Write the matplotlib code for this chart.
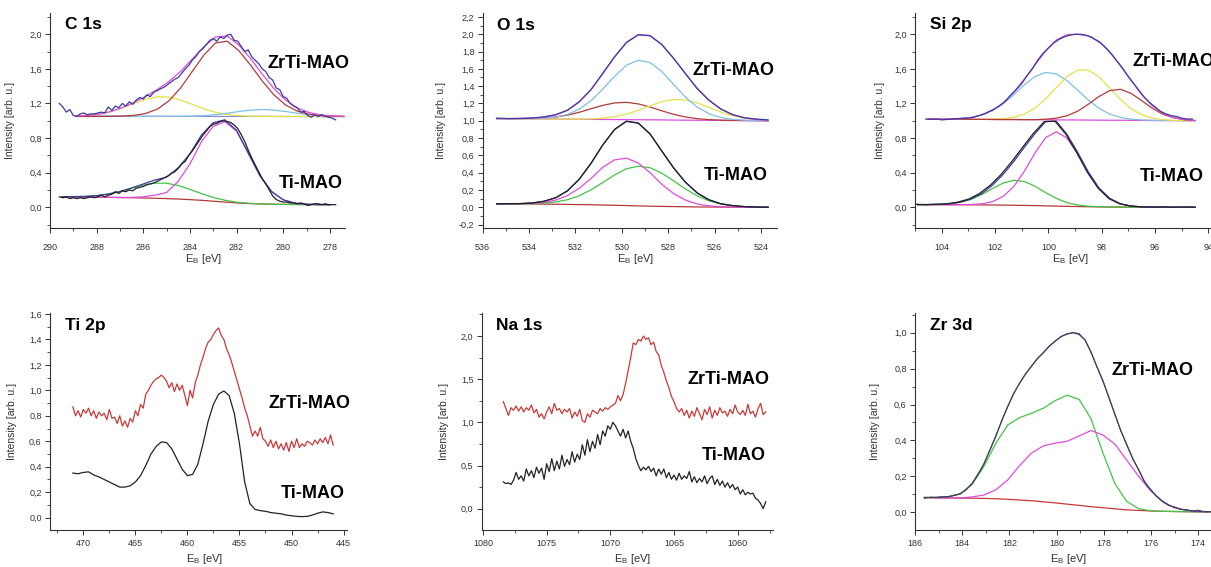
import numpy as np
import matplotlib
matplotlib.use("Agg")
import matplotlib.pyplot as plt
from matplotlib.ticker import MultipleLocator, FuncFormatter

plt.rcParams["font.family"] = ["Liberation Sans", "DejaVu Sans"]
plt.rcParams["mathtext.fontset"] = "custom"
plt.rcParams["mathtext.rm"] = "Liberation Sans"
plt.rcParams["mathtext.default"] = "regular"

# ---------------- C 1s ----------------
# ZrTi-MAO fit curves, 288.9 -> 277.4 eV
C1S_ZR_RANGE = (288.9, 277.4)
c1s_zr_bg = [1.055, 1.055, 1.054, 1.054, 1.053, 1.053, 1.052, 1.052, 1.052, 1.051, 1.051, 1.051,
             1.05, 1.05, 1.05, 1.05, 1.05, 1.05, 1.049, 1.049, 1.049, 1.048, 1.048, 1.048]
c1s_zr_yellow = [1.054, 1.061, 1.076, 1.105, 1.148, 1.20, 1.249, 1.277, 1.274, 1.24, 1.19, 1.138,
                 1.098, 1.073, 1.059, 1.053, 1.051, 1.05, 1.05, 1.05, 1.05, 1.049, 1.048, 1.047]
c1s_zr_blue = [1.05, 1.05, 1.05, 1.05, 1.05, 1.05, 1.05, 1.05, 1.05, 1.051, 1.053, 1.059,
               1.07, 1.087, 1.107, 1.123, 1.13, 1.123, 1.107, 1.087, 1.07, 1.059, 1.053, 1.051]
c1s_zr_brown = [1.05, 1.05, 1.05, 1.051, 1.054, 1.062, 1.084, 1.134, 1.23, 1.38, 1.57, 1.76,
                1.90, 1.92, 1.81, 1.644, 1.46, 1.30, 1.183, 1.112, 1.076, 1.059, 1.053, 1.05]
c1s_zr_env = [1.055, 1.061, 1.076, 1.106, 1.152, 1.212, 1.283, 1.361, 1.454, 1.57, 1.714, 1.857,
              1.968, 1.98, 1.876, 1.72, 1.54, 1.373, 1.24, 1.149, 1.096, 1.068, 1.056, 1.051]
C1S_ZR_DATA_RANGE = (289.6, 277.75)
c1s_zr_data = [1.20, 1.16, 1.10, 1.13, 1.06, 1.05, 1.08, 1.09, 1.07, 1.08,
               1.08, 1.09, 1.10, 1.09, 1.16, 1.12, 1.17, 1.15, 1.20, 1.17,
               1.22, 1.19, 1.24, 1.27, 1.25, 1.30, 1.28, 1.33, 1.35, 1.37,
               1.39, 1.42, 1.45, 1.48, 1.50, 1.55, 1.60, 1.64, 1.70, 1.74,
               1.80, 1.83, 1.88, 1.93, 1.95, 1.92, 1.97, 1.95, 1.99, 2.00,
               1.93, 1.92, 1.86, 1.80, 1.82, 1.74, 1.70, 1.66, 1.60, 1.57,
               1.50, 1.47, 1.38, 1.36, 1.28, 1.26, 1.20, 1.17, 1.15, 1.10,
               1.11, 1.06, 1.04, 1.07, 1.05, 1.07, 1.05, 1.04, 1.03, 1.01]
# Ti-MAO fit curves, 289.5 -> 278.0 eV
C1S_TI_RANGE = (289.5, 278.0)
c1s_ti_red = [0.12, 0.12, 0.118, 0.116, 0.114, 0.112, 0.11, 0.107, 0.104, 0.10, 0.095, 0.088,
              0.08, 0.07, 0.06, 0.05, 0.043, 0.038, 0.035, 0.033, 0.032, 0.031, 0.03, 0.03]
c1s_ti_green = [0.121, 0.1225, 0.125, 0.134, 0.152, 0.181, 0.219, 0.256, 0.279, 0.278, 0.251, 0.206,
                0.157, 0.113, 0.081, 0.059, 0.046, 0.039, 0.035, 0.033, 0.032, 0.031, 0.03, 0.03]
c1s_ti_magenta = [0.12, 0.12, 0.118, 0.116, 0.115, 0.113, 0.114, 0.12, 0.14, 0.17, 0.30, 0.50,
                  0.76, 0.935, 0.99, 0.88, 0.625, 0.365, 0.182, 0.086, 0.047, 0.035, 0.031, 0.03]
c1s_ti_env = [0.121, 0.123, 0.125, 0.134, 0.153, 0.182, 0.223, 0.269, 0.315, 0.348, 0.456, 0.618,
              0.837, 0.978, 1.011, 0.889, 0.628, 0.366, 0.182, 0.086, 0.047, 0.035, 0.031, 0.03]
C1S_TI_DATA_RANGE = (289.6, 277.75)
c1s_ti_data = [0.12, 0.11, 0.12, 0.10, 0.11, 0.10, 0.11, 0.10, 0.11, 0.12,
               0.11, 0.12, 0.14, 0.12, 0.14, 0.15, 0.18, 0.16, 0.19, 0.18,
               0.20, 0.19, 0.22, 0.23, 0.24, 0.26, 0.27, 0.28, 0.30, 0.32,
               0.34, 0.36, 0.39, 0.41, 0.45, 0.50, 0.53, 0.60, 0.65, 0.71,
               0.77, 0.83, 0.88, 0.93, 0.96, 0.97, 0.99, 1.00, 0.99, 0.98,
               0.95, 0.91, 0.84, 0.76, 0.66, 0.57, 0.49, 0.41, 0.33, 0.27,
               0.20, 0.13, 0.09, 0.07, 0.06, 0.06, 0.05, 0.05, 0.04, 0.05,
               0.04, 0.02, 0.03, 0.04, 0.04, 0.03, 0.04, 0.03, 0.03, 0.03]

# ---------------- O 1s ----------------
O1S_RANGE = (535.4, 523.7)
o1s_zr_bg = [1.025, 1.024, 1.023, 1.022, 1.021, 1.019, 1.018, 1.017, 1.016, 1.015, 1.014, 1.013,
             1.012, 1.011, 1.010, 1.008, 1.007, 1.006, 1.005, 1.004, 1.003, 1.002, 1.001, 1.0]
o1s_zr_blue = [1.025, 1.024, 1.024, 1.025, 1.029, 1.042, 1.073, 1.134, 1.232, 1.367, 1.514, 1.641,
               1.70, 1.673, 1.568, 1.42, 1.274, 1.158, 1.081, 1.037, 1.016, 1.006, 1.002, 1.0]
o1s_zr_brown = [1.025, 1.025, 1.025, 1.027, 1.032, 1.043, 1.065, 1.098, 1.139, 1.178, 1.206, 1.213,
                1.195, 1.159, 1.115, 1.074, 1.044, 1.024, 1.013, 1.007, 1.004, 1.002, 1.001, 1.0]
o1s_zr_yellow = [1.025, 1.024, 1.023, 1.022, 1.021, 1.019, 1.019, 1.019, 1.021, 1.029, 1.046, 1.076,
                 1.12, 1.172, 1.22, 1.245, 1.241, 1.206, 1.155, 1.102, 1.058, 1.029, 1.013, 1.004]
o1s_zr_env = [1.025, 1.025, 1.026, 1.03, 1.04, 1.066, 1.12, 1.217, 1.36, 1.544, 1.738, 1.904,
              1.991, 1.982, 1.883, 1.723, 1.545, 1.376, 1.239, 1.138, 1.072, 1.033, 1.014, 1.004]
o1s_zr_data = [1.03, 1.025, 1.027, 1.032, 1.045, 1.07, 1.122, 1.22, 1.36, 1.55, 1.74, 1.905,
               1.995, 1.985, 1.88, 1.72, 1.545, 1.37, 1.235, 1.135, 1.07, 1.035, 1.02, 1.01]
o1s_ti_red = [0.04, 0.04, 0.039, 0.038, 0.037, 0.035, 0.033, 0.031, 0.029, 0.026, 0.023, 0.02,
              0.016, 0.013, 0.01, 0.008, 0.006, 0.004, 0.003, 0.002, 0.001, 0.0, 0.0, 0.0]
o1s_ti_magenta = [0.04, 0.04, 0.041, 0.045, 0.057, 0.083, 0.135, 0.22, 0.332, 0.463, 0.548, 0.568,
                  0.512, 0.402, 0.265, 0.158, 0.083, 0.038, 0.016, 0.006, 0.003, 0.001, 0.0, 0.0]
o1s_ti_green = [0.04, 0.04, 0.04, 0.042, 0.048, 0.061, 0.087, 0.133, 0.202, 0.286, 0.374, 0.445,
                0.475, 0.457, 0.394, 0.306, 0.212, 0.132, 0.074, 0.037, 0.017, 0.006, 0.002, 0.001]
o1s_ti_env = [0.04, 0.041, 0.042, 0.049, 0.068, 0.109, 0.189, 0.322, 0.505, 0.723, 0.899, 0.993,
              0.971, 0.846, 0.649, 0.456, 0.289, 0.166, 0.087, 0.041, 0.019, 0.007, 0.002, 0.001]
o1s_ti_data = [0.04, 0.042, 0.043, 0.05, 0.07, 0.11, 0.19, 0.325, 0.51, 0.72, 0.90, 0.995,
               0.975, 0.85, 0.65, 0.455, 0.29, 0.165, 0.085, 0.04, 0.02, 0.008, 0.003, 0.0]

# ---------------- Si 2p ----------------
SI_ZR_RANGE = (104.5, 94.5)
si_zr_bg = [1.02, 1.019, 1.018, 1.018, 1.017, 1.016, 1.015, 1.014, 1.014, 1.013, 1.012, 1.011, 1.01,
            1.01, 1.009, 1.008, 1.007, 1.006, 1.006, 1.005, 1.004, 1.003, 1.002, 1.002, 1.001, 1.0]
si_zr_blue = [1.02, 1.02, 1.021, 1.025, 1.038, 1.066, 1.116, 1.195, 1.30, 1.415, 1.511, 1.559, 1.542,
              1.465, 1.353, 1.24, 1.144, 1.078, 1.039, 1.019, 1.009, 1.005, 1.003, 1.002, 1.001, 1.0]
si_zr_yellow = [1.02, 1.019, 1.018, 1.018, 1.017, 1.017, 1.019, 1.024, 1.04, 1.077, 1.146, 1.253, 1.384,
                1.51, 1.587, 1.586, 1.508, 1.38, 1.248, 1.139, 1.069, 1.03, 1.012, 1.004, 1.001, 1.0]
si_zr_brown = [1.02, 1.019, 1.018, 1.018, 1.017, 1.016, 1.015, 1.014, 1.014, 1.013, 1.013, 1.018, 1.03,
               1.058, 1.111, 1.191, 1.281, 1.348, 1.364, 1.317, 1.233, 1.144, 1.075, 1.035, 1.012, 1.003]
si_zr_env = [1.02, 1.02, 1.021, 1.025, 1.038, 1.067, 1.119, 1.205, 1.328, 1.481, 1.648, 1.807, 1.935,
             1.995, 2.0, 1.98, 1.919, 1.794, 1.639, 1.467, 1.304, 1.173, 1.085, 1.036, 1.013, 1.003]
SI_ZR_DATA_RANGE = (104.6, 94.6)
si_zr_data = [1.02, 1.015, 1.02, 1.01, 1.015, 1.02, 1.025, 1.03, 1.03, 1.04,
              1.06, 1.08, 1.11, 1.14, 1.18, 1.23, 1.30, 1.36, 1.43, 1.52,
              1.60, 1.70, 1.78, 1.84, 1.90, 1.94, 1.97, 1.99, 2.0, 2.0,
              1.99, 1.97, 1.93, 1.89, 1.83, 1.76, 1.68, 1.60, 1.51, 1.43,
              1.35, 1.27, 1.21, 1.16, 1.11, 1.08, 1.06, 1.05, 1.03, 1.02,
              1.02]
SI_TI_RANGE = (104.9, 94.5)
si_ti_red = [0.03, 0.03, 0.03, 0.029, 0.029, 0.028, 0.027, 0.026, 0.025, 0.023, 0.021, 0.019, 0.016, 0.013,
             0.01, 0.008, 0.006, 0.004, 0.003, 0.002, 0.001, 0.0, 0.0, 0.0, 0.0, 0.0, 0.0]
si_ti_magenta = [0.03, 0.03, 0.03, 0.029, 0.03, 0.032, 0.039, 0.064, 0.124, 0.238, 0.416, 0.628, 0.805, 0.873,
                 0.799, 0.617, 0.401, 0.219, 0.102, 0.04, 0.013, 0.004, 0.001, 0.0, 0.0, 0.0, 0.0]
si_ti_green = [0.03, 0.031, 0.033, 0.04, 0.057, 0.091, 0.146, 0.215, 0.279, 0.312, 0.298, 0.243, 0.169, 0.102,
               0.053, 0.026, 0.012, 0.006, 0.003, 0.002, 0.001, 0.0, 0.0, 0.0, 0.0, 0.0, 0.0]
si_ti_env = [0.03, 0.031, 0.033, 0.04, 0.058, 0.095, 0.158, 0.253, 0.378, 0.527, 0.693, 0.852, 0.99, 0.995,
             0.842, 0.635, 0.407, 0.221, 0.102, 0.04, 0.013, 0.004, 0.001, 0.0, 0.0, 0.0, 0.0]
si_ti_data = [0.035, 0.03, 0.035, 0.04, 0.06, 0.095, 0.16, 0.255, 0.38, 0.53, 0.695, 0.855, 0.99, 0.995,
              0.845, 0.635, 0.405, 0.22, 0.10, 0.04, 0.015, 0.005, 0.002, 0.005, 0.0, 0.003, 0.0]

# ---------------- Ti 2p ----------------
TI2P_TI_RANGE = (471.0, 446.0)
ti2p_ti = [0.35, 0.345, 0.355, 0.36, 0.335, 0.32, 0.30, 0.28, 0.26, 0.24,
           0.24, 0.25, 0.28, 0.33, 0.41, 0.50, 0.56, 0.595, 0.59, 0.54,
           0.46, 0.38, 0.33, 0.34, 0.42, 0.58, 0.76, 0.89, 0.97, 0.995,
           0.96, 0.82, 0.58, 0.28, 0.11, 0.065, 0.055, 0.05, 0.04, 0.035,
           0.03, 0.02, 0.015, 0.01, 0.008, 0.01, 0.02, 0.035, 0.045, 0.04,
           0.03]
TI2P_ZR_RANGE = (471.0, 446.0)
ti2p_zr = [0.87, 0.80, 0.84, 0.79, 0.85, 0.82, 0.86, 0.80, 0.84, 0.78,
           0.83, 0.80, 0.82, 0.77, 0.85, 0.78, 0.79, 0.74, 0.80, 0.72,
           0.76, 0.71, 0.78, 0.75, 0.84, 0.80, 0.89, 0.86, 0.97, 1.00,
           1.04, 1.07, 1.09, 1.10, 1.12, 1.10, 1.07, 1.02, 1.06, 0.99,
           1.05, 1.00, 1.04, 0.96, 0.88, 1.00, 0.94, 1.06, 1.12, 1.20,
           1.26, 1.33, 1.38, 1.40, 1.44, 1.47, 1.49, 1.43, 1.40, 1.33,
           1.28, 1.22, 1.15, 1.08, 1.01, 0.94, 0.86, 0.80, 0.72, 0.64,
           0.68, 0.64, 0.71, 0.62, 0.60, 0.56, 0.61, 0.55, 0.60, 0.54,
           0.58, 0.53, 0.59, 0.52, 0.60, 0.55, 0.62, 0.55, 0.58, 0.56,
           0.60, 0.59, 0.57, 0.61, 0.58, 0.62, 0.59, 0.63, 0.58, 0.65,
           0.57]

# ---------------- Na 1s ----------------
NA_RANGE = (1078.4, 1057.8)
na_zr = [1.24, 1.16, 1.08, 1.17, 1.14, 1.19, 1.13, 1.18, 1.12, 1.17,
         1.14, 1.20, 1.11, 1.15, 1.06, 1.10, 1.04, 1.12, 1.18, 1.10,
         1.22, 1.14, 1.16, 1.10, 1.15, 1.12, 1.16, 1.05, 1.12, 1.07,
         1.15, 1.02, 1.00, 1.10, 1.06, 1.14, 1.12, 1.10, 1.16, 1.13,
         1.17, 1.15, 1.18, 1.20, 1.22, 1.31, 1.25, 1.32, 1.45, 1.60,
         1.75, 1.92, 1.90, 1.96, 1.94, 2.00, 1.96, 1.98, 1.90, 1.93,
         1.82, 1.78, 1.66, 1.58, 1.48, 1.40, 1.30, 1.24, 1.16, 1.12,
         1.16, 1.08, 1.14, 1.05, 1.13, 1.07, 1.17, 1.10, 1.03, 1.15,
         1.09, 1.18, 1.05, 1.14, 1.08, 1.17, 1.11, 1.13, 1.07, 1.15,
         1.10, 1.20, 1.12, 1.09, 1.14, 1.08, 1.21, 1.10, 1.13, 1.06,
         1.16, 1.22, 1.09, 1.12]
na_ti = [0.31, 0.29, 0.30, 0.28, 0.33, 0.42, 0.34, 0.38, 0.32, 0.46,
         0.38, 0.44, 0.36, 0.48, 0.41, 0.47, 0.34, 0.52, 0.43, 0.58,
         0.44, 0.55, 0.46, 0.62, 0.49, 0.57, 0.51, 0.66, 0.54, 0.63,
         0.57, 0.74, 0.62, 0.80, 0.66, 0.78, 0.70, 0.86, 0.74, 0.90,
         0.84, 0.96, 0.92, 1.00, 0.96, 0.90, 0.84, 0.92, 0.82, 0.90,
         0.78, 0.70, 0.58, 0.50, 0.44, 0.48, 0.45, 0.49, 0.43, 0.47,
         0.38, 0.46, 0.40, 0.46, 0.36, 0.42, 0.34, 0.39, 0.33, 0.41,
         0.34, 0.38, 0.35, 0.43, 0.31, 0.37, 0.30, 0.35, 0.31, 0.38,
         0.29, 0.35, 0.38, 0.28, 0.34, 0.27, 0.32, 0.25, 0.30, 0.24,
         0.28, 0.22, 0.25, 0.17, 0.22, 0.16, 0.19, 0.17, 0.18, 0.12,
         0.10, 0.06, 0.0, 0.08]

# ---------------- Zr 3d ----------------
ZR_RANGE = (185.6, 173.5)
zr_red = [0.082, 0.08, 0.08, 0.079, 0.078, 0.077, 0.075, 0.072, 0.068, 0.064, 0.058, 0.052, 0.045,
          0.038, 0.031, 0.025, 0.019, 0.013, 0.01, 0.007, 0.005, 0.004, 0.003, 0.002, 0.001]
zr_green = [0.082, 0.083, 0.087, 0.102, 0.155, 0.255, 0.384, 0.486, 0.527, 0.551, 0.58, 0.622, 0.652,
            0.628, 0.52, 0.33, 0.16, 0.06, 0.02, 0.008, 0.005, 0.004, 0.003, 0.002, 0.001]
zr_magenta = [0.082, 0.08, 0.08, 0.08, 0.085, 0.096, 0.125, 0.18, 0.26, 0.33, 0.37, 0.385, 0.395,
              0.425, 0.455, 0.43, 0.38, 0.29, 0.20, 0.12, 0.06, 0.025, 0.01, 0.004, 0.002]
# envelope and measured curve on a finer 0.25 eV grid
ZR_FINE_RANGE = (185.6, 173.5)
zr_env = [0.082, 0.082, 0.083, 0.085, 0.087, 0.093, 0.103, 0.125, 0.16, 0.21,
          0.27, 0.345, 0.425, 0.51, 0.59, 0.66, 0.72, 0.77, 0.815, 0.855,
          0.89, 0.925, 0.955, 0.978, 0.994, 1.0, 0.99, 0.96, 0.89, 0.81,
          0.73, 0.64, 0.545, 0.455, 0.375, 0.30, 0.235, 0.17, 0.125, 0.09,
          0.06, 0.04, 0.027, 0.018, 0.012, 0.008, 0.005, 0.004, 0.003]
zr_data = [0.078, 0.084, 0.081, 0.086, 0.085, 0.095, 0.101, 0.128, 0.158, 0.213,
           0.268, 0.348, 0.422, 0.512, 0.588, 0.663, 0.718, 0.772, 0.812, 0.858,
           0.888, 0.927, 0.952, 0.981, 0.992, 1.0, 0.995, 0.957, 0.893, 0.808,
           0.733, 0.638, 0.548, 0.452, 0.378, 0.297, 0.238, 0.168, 0.128, 0.088,
           0.062, 0.038, 0.03, 0.016, 0.014, 0.006, 0.012, 0.002, 0.004]

# colours
BROWN = "#b23a3a"
YELLOW = "#e2e24a"
LBLUE = "#7fbfe8"
MAGENTA = "#de4cde"
GREEN = "#44c444"
RED = "#c83a3a"
NAVY = "#3c3c9e"
GREY = "#333333"


def comma(v, pos):
    s = "%.1f" % v
    if s == "-0.0":
        s = "0.0"
    return s.replace(".", ",")


def line(ax, rng, vals, color, lw=0.9):
    # energies spread evenly over the measured range
    x = np.linspace(rng[0], rng[1], len(vals))
    ax.plot(x, vals, color=color, lw=lw)


def style(ax, xlim, ylim, xmaj, ymaj, title, ylab_x, xlab_y, xpad):
    ax.set_xlim(*xlim)
    ax.set_ylim(*ylim)
    ax.spines["top"].set_visible(False)
    ax.spines["right"].set_visible(False)
    for s in ("left", "bottom"):
        ax.spines[s].set_color(GREY)
        ax.spines[s].set_linewidth(0.8)
    ax.xaxis.set_major_locator(MultipleLocator(xmaj))
    ax.xaxis.set_minor_locator(MultipleLocator(xmaj / 2))
    ax.yaxis.set_major_locator(MultipleLocator(ymaj))
    ax.yaxis.set_minor_locator(MultipleLocator(ymaj / 2))
    ax.yaxis.set_major_formatter(FuncFormatter(comma))
    ax.xaxis.set_major_formatter(FuncFormatter(lambda v, p: "%d" % round(v)))
    ax.tick_params(which="major", direction="out", length=3.5, width=0.7,
                   labelsize=6.5, colors=GREY)
    ax.tick_params(which="minor", direction="out", length=2, width=0.6, colors=GREY)
    ax.tick_params(axis="x", which="major", pad=xpad)
    ax.tick_params(axis="y", which="major", pad=2.5)
    ax.set_ylabel("Intensity [arb. u.]", fontsize=7.5, color=GREY)
    ax.yaxis.set_label_coords(ylab_x, 0.5)
    ax.set_xlabel(r"E$_{B}$ [eV]", fontsize=8, color=GREY)
    ax.xaxis.set_label_coords(0.52, xlab_y)
    ax.text(0.05, 0.945, title, transform=ax.transAxes, fontsize=12.5,
            fontweight="bold", ha="left", va="center")


def label(ax, x, y, s, ha="center"):
    ax.text(x, y, s, transform=ax.transAxes, fontsize=13, fontweight="bold",
            ha=ha, va="center")


fig = plt.figure(figsize=(12.11, 5.67), dpi=100)
W, H = 1211.0, 567.0


def axes_px(x0, x1, y0, y1):
    return fig.add_axes([x0 / W, 1 - y1 / H, (x1 - x0) / W, (y1 - y0) / H])


# C 1s
ax = axes_px(50, 345, 13, 228)
line(ax, C1S_ZR_RANGE, c1s_zr_bg, "#8c8cd6")
line(ax, C1S_ZR_RANGE, c1s_zr_yellow, YELLOW)
line(ax, C1S_ZR_RANGE, c1s_zr_blue, LBLUE)
line(ax, C1S_ZR_RANGE, c1s_zr_brown, BROWN)
line(ax, C1S_ZR_RANGE, c1s_zr_env, MAGENTA)
line(ax, C1S_ZR_DATA_RANGE, c1s_zr_data, NAVY)
line(ax, C1S_TI_RANGE, c1s_ti_red, BROWN)
line(ax, C1S_TI_RANGE, c1s_ti_green, GREEN)
line(ax, C1S_TI_RANGE, c1s_ti_magenta, MAGENTA)
line(ax, C1S_TI_RANGE, c1s_ti_env, NAVY)
line(ax, C1S_TI_DATA_RANGE, c1s_ti_data, "#222222")
style(ax, (290, 277.35), (-0.24, 2.246), 2, 0.4, "C 1s", -0.119, -0.11, 7)
label(ax, 0.875, 0.763, "ZrTi-MAO")
label(ax, 0.885, 0.209, "Ti-MAO")

# O 1s
ax = axes_px(482.7, 777.3, 13.3, 228.3)
line(ax, O1S_RANGE, o1s_zr_bg, MAGENTA)
line(ax, O1S_RANGE, o1s_zr_brown, BROWN)
line(ax, O1S_RANGE, o1s_zr_yellow, YELLOW)
line(ax, O1S_RANGE, o1s_zr_blue, LBLUE)
line(ax, O1S_RANGE, o1s_zr_env, MAGENTA)
line(ax, O1S_RANGE, o1s_zr_data, NAVY)
line(ax, O1S_RANGE, o1s_ti_red, BROWN)
line(ax, O1S_RANGE, o1s_ti_green, GREEN)
line(ax, O1S_RANGE, o1s_ti_magenta, MAGENTA)
line(ax, O1S_RANGE, o1s_ti_env, NAVY)
line(ax, O1S_RANGE, o1s_ti_data, "#222222")
style(ax, (536, 523.3), (-0.243, 2.242), 2, 0.2, "O 1s", -0.126, -0.11, 7)
label(ax, 0.85, 0.733, "ZrTi-MAO")
label(ax, 0.86, 0.245, "Ti-MAO")

# Si 2p
ax = axes_px(915, 1213.7, 13, 228)
line(ax, SI_ZR_RANGE, si_zr_bg, MAGENTA)
line(ax, SI_ZR_RANGE, si_zr_blue, LBLUE)
line(ax, SI_ZR_RANGE, si_zr_yellow, YELLOW)
line(ax, SI_ZR_RANGE, si_zr_brown, BROWN)
line(ax, SI_ZR_RANGE, si_zr_env, MAGENTA)
line(ax, SI_ZR_DATA_RANGE, si_zr_data, NAVY)
line(ax, SI_TI_RANGE, si_ti_red, BROWN)
line(ax, SI_TI_RANGE, si_ti_green, GREEN)
line(ax, SI_TI_RANGE, si_ti_magenta, MAGENTA)
line(ax, SI_TI_RANGE, si_ti_env, NAVY)
line(ax, (105.0, 94.5), si_ti_data, "#222222")
style(ax, (105, 93.8), (-0.24, 2.246), 2, 0.4, "Si 2p", -0.1, -0.11, 7)
label(ax, 0.728, 0.773, "ZrTi-MAO", ha="left")
label(ax, 0.859, 0.239, "Ti-MAO")

# Ti 2p
ax = axes_px(50, 346.7, 313.3, 530)
line(ax, TI2P_ZR_RANGE, ti2p_zr, RED)
line(ax, TI2P_TI_RANGE, ti2p_ti, "#222222")
style(ax, (473.2, 444.7), (-0.097, 1.605), 5, 0.2, "Ti 2p", -0.112, -0.1, 3)
label(ax, 0.876, 0.585, "ZrTi-MAO")
label(ax, 0.885, 0.169, "Ti-MAO")

# Na 1s
ax = axes_px(481.7, 772.7, 313.3, 530)
line(ax, NA_RANGE, na_zr, RED)
line(ax, NA_RANGE, na_ti, "#222222")
style(ax, (1080.1, 1057.25), (-0.247, 2.263), 5, 0.5, "Na 1s", -0.111, -0.1, 3)
label(ax, 0.847, 0.695, "ZrTi-MAO")
label(ax, 0.866, 0.346, "Ti-MAO")

# Zr 3d
ax = axes_px(915, 1211, 313.3, 530)
line(ax, ZR_RANGE, zr_red, RED)
line(ax, ZR_RANGE, zr_green, GREEN)
line(ax, ZR_RANGE, zr_magenta, MAGENTA)
line(ax, ZR_FINE_RANGE, zr_env, NAVY)
line(ax, ZR_FINE_RANGE, zr_data, "#444444", lw=0.7)
style(ax, (186, 173.46), (-0.099, 1.108), 2, 0.2, "Zr 3d", -0.118, -0.1, 3)
label(ax, 0.804, 0.735, "ZrTi-MAO")

fig.savefig("out.png", dpi=100, facecolor="white")
